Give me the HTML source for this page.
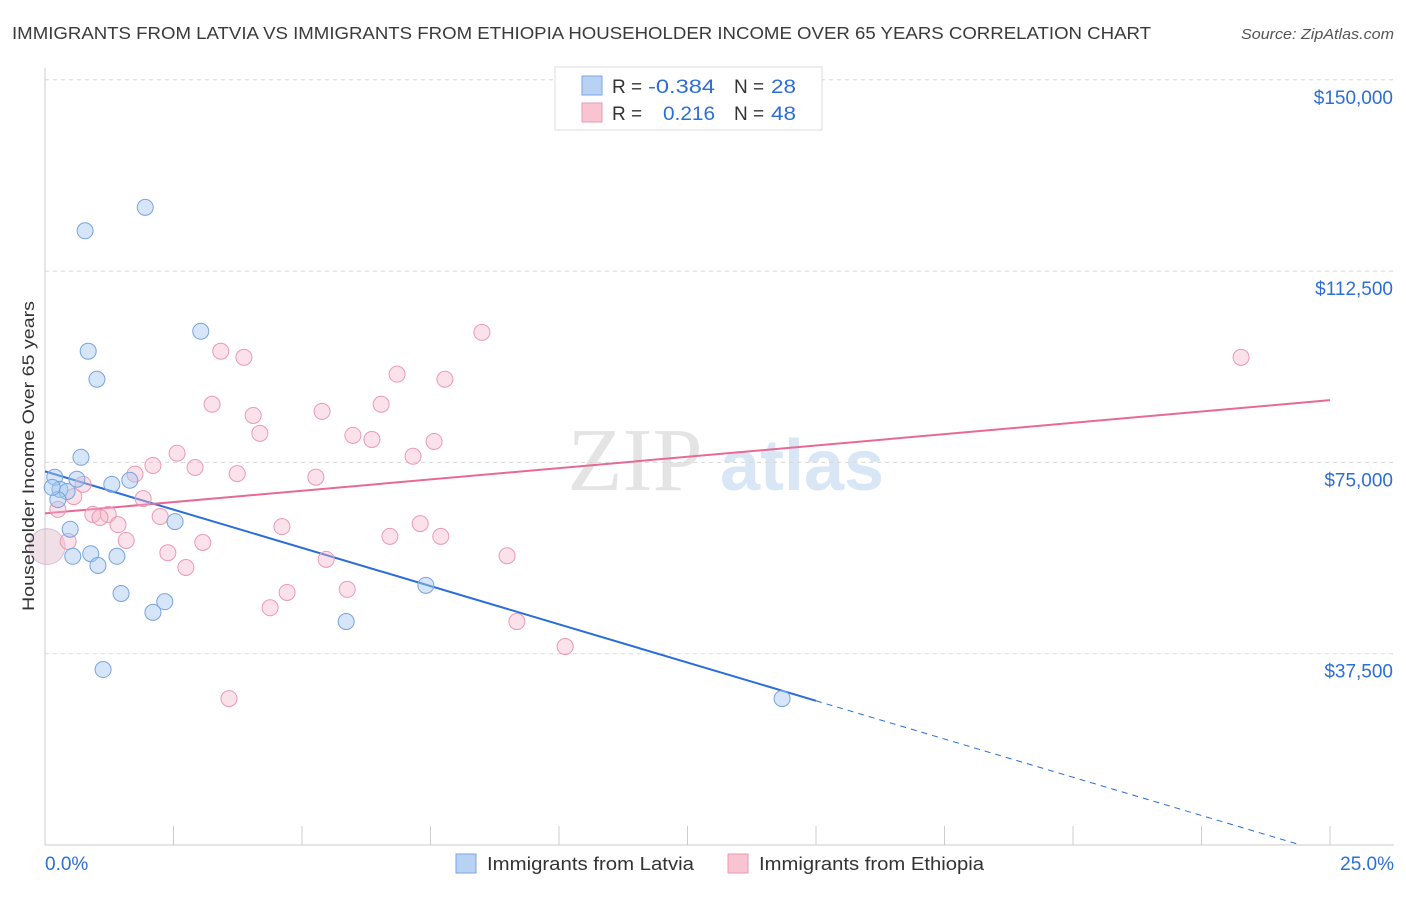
<!DOCTYPE html>
<html><head><meta charset="utf-8"><style>
body{margin:0;background:#fff;font-family:"Liberation Sans",sans-serif;}
svg text{font-family:"Liberation Sans",sans-serif;}
</style></head><body>
<svg id="chart" width="1406" height="892" viewBox="0 0 1406 892" xmlns="http://www.w3.org/2000/svg">
<text x="12" y="39" font-size="17.5" fill="#3a3a3a" textLength="1139" lengthAdjust="spacingAndGlyphs">IMMIGRANTS FROM LATVIA VS IMMIGRANTS FROM ETHIOPIA HOUSEHOLDER INCOME OVER 65 YEARS CORRELATION CHART</text>
<text x="1241" y="39" font-size="15" fill="#555" font-style="italic" textLength="153" lengthAdjust="spacingAndGlyphs">Source: ZipAtlas.com</text>
<g>
<text x="635" y="490" font-size="90" fill="#e4e4e4" text-anchor="middle" style="font-family:'Liberation Serif',serif">ZIP</text>
<text x="802" y="490" font-size="72" fill="#d8e6f6" text-anchor="middle" font-weight="bold">atlas</text>
</g>
<g id="grid"></g>
<g id="axes"></g>
<g id="lines"></g>
<g id="points"></g>
<text transform="translate(34,456) rotate(-90)" font-size="17" fill="#333" text-anchor="middle" textLength="310" lengthAdjust="spacingAndGlyphs">Householder Income Over 65 years</text>
<g>
<rect x="555" y="67" width="267" height="63" fill="#fff" stroke="#ddd"/>
<rect x="582" y="76" width="20" height="19" fill="#b8d2f4" stroke="#7aa6e0"/>
<rect x="582" y="103" width="20" height="19" fill="#f8c4d2" stroke="#ec98b0"/>
<text x="612" y="93" font-size="19" fill="#333">R =</text>
<text x="648" y="93" font-size="19" fill="#2c6fd4" textLength="67" lengthAdjust="spacingAndGlyphs">-0.384</text>
<text x="734" y="93" font-size="19" fill="#333">N =</text>
<text x="771" y="93" font-size="19" fill="#2c6fd4" textLength="25" lengthAdjust="spacingAndGlyphs">28</text>
<text x="612" y="120" font-size="19" fill="#333">R =</text>
<text x="663" y="120" font-size="19" fill="#2c6fd4" textLength="52" lengthAdjust="spacingAndGlyphs">0.216</text>
<text x="734" y="120" font-size="19" fill="#333">N =</text>
<text x="771" y="120" font-size="19" fill="#2c6fd4" textLength="25" lengthAdjust="spacingAndGlyphs">48</text>
</g>
<g>
<rect x="456" y="854" width="20" height="19" fill="#b8d2f4" stroke="#7aa6e0"/>
<text x="487" y="870" font-size="18" fill="#333" textLength="207" lengthAdjust="spacingAndGlyphs">Immigrants from Latvia</text>
<rect x="728" y="854" width="20" height="19" fill="#f8c4d2" stroke="#ec98b0"/>
<text x="759" y="870" font-size="18" fill="#333" textLength="225" lengthAdjust="spacingAndGlyphs">Immigrants from Ethiopia</text>
</g>
</svg>
<script>
const yTicks=[37500,75000,112500,150000];
const yTickLabels=["$37,500","$75,000","$112,500","$150,000"];
const xTickLabels=["0.0%","25.0%"];
const latviaX=[1.95,0.78,3.03,0.84,1.01,0.70,0.19,0.62,1.65,1.30,0.29,0.43,0.25,2.53,0.49,0.89,0.54,1.40,1.03,1.48,2.33,2.10,5.86,7.41,1.13,14.34,0.14];
const latviaY=[125000,120400,100700,96800,91300,76000,72100,71700,71500,70700,69700,69300,67700,63400,61900,57100,56600,56600,54800,49300,47700,45600,43800,50900,34400,28700,70100];
const ethiopiaX=[8.50,23.27,3.42,3.87,6.85,7.78,3.25,6.54,5.39,4.05,4.18,5.99,6.36,7.57,7.16,2.57,2.10,2.92,1.75,3.74,5.27,0.74,0.56,1.91,0.25,0.93,1.23,2.24,1.42,4.61,7.30,1.58,0.45,3.07,6.71,7.70,2.39,8.99,5.47,2.74,5.88,4.71,4.38,9.18,10.12,3.58,1.07];
const ethiopiaY=[100500,95600,96800,95600,92300,91300,86400,86400,85000,84200,80700,80300,79500,79100,76200,76800,74400,74000,72700,72800,72100,70700,68300,67900,65800,64800,64800,64400,62800,62400,63000,59700,59500,59300,60500,60500,57300,56700,56000,54400,50100,49500,46500,43800,38900,28700,64200];
const bigX=[0.04];const bigY=[58500];
const latviaFit=[73240,-2998];
const ethiopiaFit=[65000,888];
const NS="http://www.w3.org/2000/svg";
const sx=v=>45+v/25*1285;
const sy=v=>845-v/37500*191.3;
function mk(tag,attrs,parent){const e=document.createElementNS(NS,tag);for(const k in attrs)e.setAttribute(k,attrs[k]);document.getElementById(parent).appendChild(e);return e;}
yTicks.forEach((t,i)=>{
 const l=mk('line',{x1:45,x2:1394,y1:sy(t),y2:sy(t),stroke:'#d8d8d8','stroke-dasharray':'4,4'},'grid');
 
 
 const tx=mk('text',{x:1393,y:sy(t)+24,'font-size':19,fill:'#2c6fd4','text-anchor':'end'},'axes');
 tx.textContent=yTickLabels[i];
 
 
});
const ya=mk('line',{x1:45,x2:45,y1:68,y2:845,stroke:'#ccc'},'axes');


const xa=mk('line',{x1:45,x2:1394,y1:845,y2:845,stroke:'#ccc'},'axes');


for(let i=0;i<=10;i++){
 const t=mk('line',{x1:sx(i*2.5),x2:sx(i*2.5),y1:826,y2:845,stroke:'#ccc'},'axes');
 
 
}
const x0=mk('text',{x:45,y:870,'font-size':19,fill:'#2c6fd4'},'axes');x0.textContent=xTickLabels[0];


const x1=mk('text',{x:1394,y:870,'font-size':19,fill:'#2c6fd4','text-anchor':'end'},'axes');x1.textContent=xTickLabels[1];


const f=(fit,x)=>fit[0]+fit[1]*x;
const lb=mk('line',{x1:sx(0),y1:sy(f(latviaFit,0)),x2:sx(15),y2:sy(f(latviaFit,15)),stroke:'#2a6dd8','stroke-width':2},'lines');


const ld=mk('line',{x1:sx(15),y1:sy(f(latviaFit,15)),x2:sx(24.4),y2:sy(f(latviaFit,24.4)),stroke:'#2a6dd8','stroke-width':1,'stroke-dasharray':'6,5'},'lines');


const lp=mk('line',{x1:sx(0),y1:sy(f(ethiopiaFit,0)),x2:sx(25),y2:sy(f(ethiopiaFit,25)),stroke:'#e86a94','stroke-width':2},'lines');


bigX.forEach((x,i)=>{
 const c=mk('circle',{cx:sx(x),cy:sy(bigY[i]),r:18,fill:'rgba(225,185,205,0.45)',stroke:'rgba(200,160,200,0.6)'},'points');
 
 
});
ethiopiaX.forEach((x,i)=>{
 const c=mk('circle',{cx:sx(x),cy:sy(ethiopiaY[i]),r:8,fill:'rgba(245,180,200,0.4)',stroke:'#eb9ab2','stroke-width':1},'points');
 
 
});
latviaX.forEach((x,i)=>{
 const c=mk('circle',{cx:sx(x),cy:sy(latviaY[i]),r:8,fill:'rgba(165,200,240,0.45)',stroke:'#76a4e0','stroke-width':1},'points');
 
 
});
</script>
</body></html>
